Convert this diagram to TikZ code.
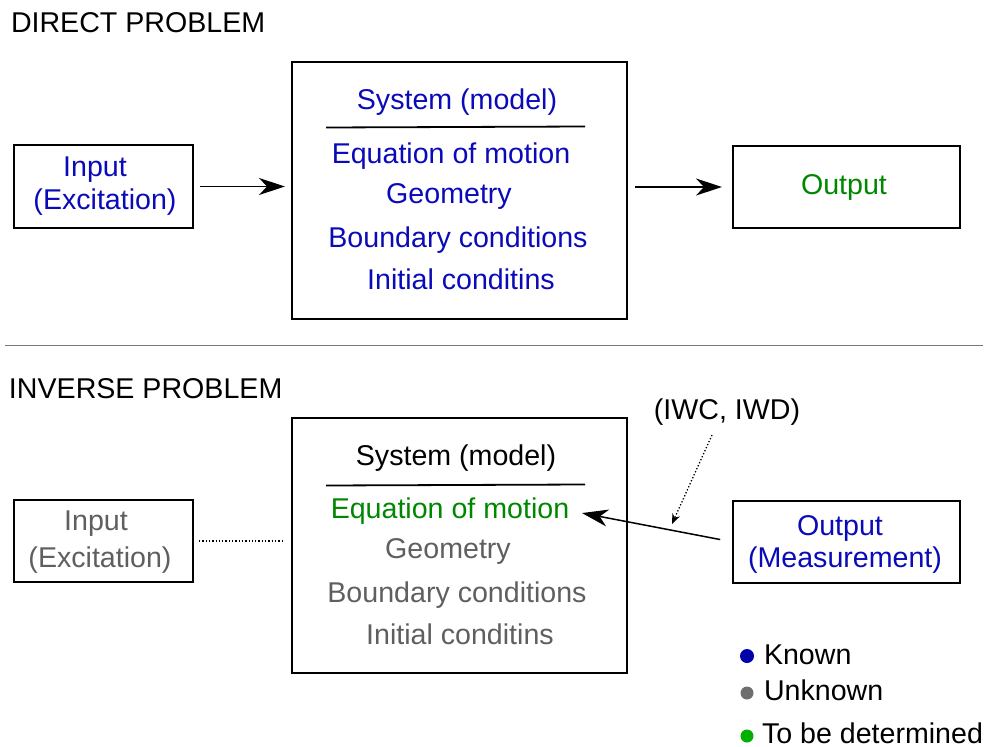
\documentclass[tikz,border=0pt]{standalone}
\usepackage{fontspec}
\setmainfont{Liberation Sans}
\usetikzlibrary{arrows.meta,calc}
\definecolor{knownblue}{RGB}{10,10,185}
\definecolor{unkgray}{RGB}{95,95,95}
\definecolor{detgreen}{RGB}{0,135,0}
\definecolor{dotgray}{RGB}{110,110,110}
\definecolor{dotgreen}{RGB}{0,175,0}
\definecolor{dotblue}{RGB}{0,0,170}
\definecolor{rulegray}{RGB}{120,120,120}
\begin{document}
\begin{tikzpicture}[x=1pt,y=-1pt,
  every node/.style={inner sep=0pt,outer sep=0pt,font=\fontsize{28.6}{34}\selectfont},
  lbl/.style={anchor=base},
  box/.style={draw,line width=1.5pt},
  arr/.style={line width=1.5pt,-{Stealth[length=26pt,width=17pt,inset=8pt]}},
  dotarr/.style={line width=1.3pt,dotted,-{Stealth[length=10pt,width=8pt,inset=3pt]}},
  leg/.style={circle,inner sep=0pt,minimum size=14pt}]
\useasboundingbox (0,0) rectangle (989,747);

% ---- direct problem ----
\node[anchor=base west] (dtitle) at (11,32) {DIRECT PROBLEM};

\node[box,minimum width=179,minimum height=83] (in1) at (103.5,186.5) {};
\node[lbl,knownblue] (in1a) at (95,176) {Input};
\node[lbl,knownblue] (in1b) at (105,209) {(Excitation)};

\node[box,minimum width=335,minimum height=257] (sys1) at (459.5,190.5) {};
\node[lbl,knownblue] (s1t) at (457,109) {System (model)};
\draw[line width=1.8pt] (326,127.5) -- (585,126.5);
\node[lbl,knownblue] (s1a) at (451,163) {Equation of motion};
\node[lbl,knownblue] (s1b) at (449,203) {Geometry};
\node[lbl,knownblue] (s1c) at (458,247) {Boundary conditions};
\node[lbl,knownblue] (s1d) at (461,289) {Initial conditins};

\node[box,minimum width=227,minimum height=82] (out1) at (846.5,187) {};
\node[lbl,detgreen] (out1a) at (844,194) {Output};

\draw[arr] ([xshift=7]in1.east) -- ([xshift=-7]in1.east -| sys1.west);
\draw[arr] ([xshift=8]out1.west -| sys1.east) -- ([xshift=-11]out1.west);

% ---- separator ----
\draw[rulegray,line width=1pt] (5,345) -- (983,345);

% ---- inverse problem ----
\node[anchor=base west] (ititle) at (9,398) {INVERSE PROBLEM};

\node[box,minimum width=179,minimum height=82] (in2) at (103.5,541) {};
\node[lbl,unkgray] (in2a) at (96,530) {Input};
\node[lbl,unkgray] (in2b) at (100,567) {(Excitation)};

\node[box,minimum width=335,minimum height=255] (sys2) at (459.5,545.5) {};
\node[lbl] (s2t) at (456,465) {System (model)};
\draw[line width=1.8pt] (326,485.5) -- (585,484.5);
\node[lbl,detgreen] (s2a) at (450,518) {Equation of motion};
\node[lbl,unkgray] (s2b) at (448,558) {Geometry};
\node[lbl,unkgray] (s2c) at (457,602) {Boundary conditions};
\node[lbl,unkgray] (s2d) at (460,644) {Initial conditins};

\node[box,minimum width=227,minimum height=82] (out2) at (846.5,542) {};
\node[lbl,knownblue] (out2a) at (840,535) {Output};
\node[lbl,knownblue] (out2b) at (845,567) {(Measurement)};

\draw[line width=1.3pt,dotted] ([xshift=6]in2.east) -- ([xshift=-9]in2.east -| sys2.west);
\draw[arr,shorten <=13pt,shorten >=13pt] (out2.west) -- (s2a.east);

\node[lbl] (iw) at (727,419) {(IWC, IWD)};
\coordinate (iwtip) at (672,524);
\draw[dotarr] ([xshift=-15,yshift=-16]iw.base) -- (iwtip);

% ---- legend ----
\node[leg,fill=dotblue] (kdot) at (747,656) {};
\node[anchor=base west] (ktxt) at (764,664) {Known};
\node[leg,fill=dotgray,minimum size=13pt] (udot) at (747,693) {};
\node[anchor=base west] (utxt) at (764,700) {Unknown};
\node[leg,fill=dotgreen,minimum size=13pt] (gdot) at (747,736) {};
\node[anchor=base west] (gtxt) at (762,743) {To be determined};
\end{tikzpicture}
\end{document}
